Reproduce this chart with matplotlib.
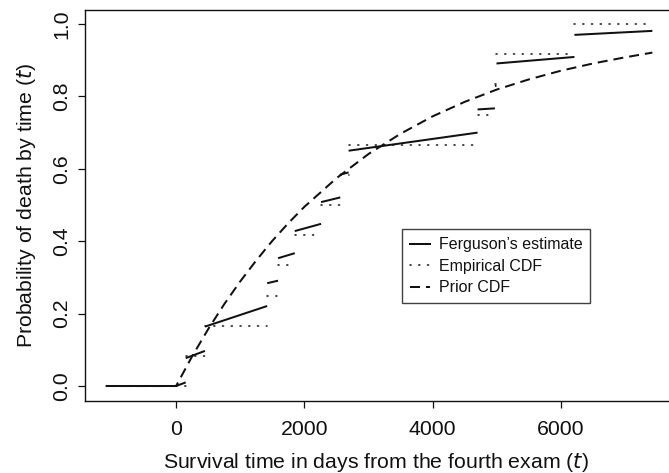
import matplotlib
matplotlib.use("Agg")
import matplotlib.pyplot as plt
from matplotlib.lines import Line2D

plt.rcParams['font.family'] = ['Liberation Sans', 'DejaVu Sans']
plt.rcParams['lines.scale_dashes'] = False

# Ferguson's (Dirichlet-process) estimate, drawn piece by piece between deaths
ferg_t0 = [-1090, 0, 150, 450, 1420, 1590, 1850, 2260, 2560, 2690, 4700, 4970, 4995, 6210]
ferg_t1 = [0, 150, 450, 1420, 1590, 1850, 2260, 2560, 2690, 4700, 4970, 4995, 6210, 7425]
ferg_y0 = [0.0, 0.0, 0.077, 0.164, 0.284, 0.353, 0.428, 0.508, 0.584, 0.650, 0.764, 0.829, 0.891, 0.970]
ferg_y1 = [0.0, 0.010, 0.097, 0.221, 0.291, 0.367, 0.448, 0.521, 0.590, 0.700, 0.767, 0.830, 0.909, 0.981]

# Empirical CDF: step levels between successive death times
emp_t0 = [-1090, 150, 450, 1420, 1590, 1850, 2260, 2560, 2690, 4700, 4970, 4995, 6210]
emp_t1 = [150, 450, 1420, 1590, 1850, 2260, 2560, 2690, 4700, 4970, 4995, 6210, 7425]
emp_y = [0.0, 0.083, 0.167, 0.250, 0.333, 0.417, 0.500, 0.583, 0.667, 0.750, 0.833, 0.917, 1.0]

# Prior CDF
prior_t = [-1090, 0, 250, 500, 750, 1000, 1250, 1500, 1750, 2000, 2500, 3000,
           3500, 4000, 4500, 5000, 5500, 6000, 6500, 7000, 7425]
prior_y = [0.0, 0.0, 0.082, 0.157, 0.226, 0.289, 0.347, 0.401, 0.450, 0.495, 0.574, 0.641,
           0.697, 0.745, 0.785, 0.819, 0.847, 0.871, 0.891, 0.908, 0.921]

x_ticks = [0, 2000, 4000, 6000]
y_ticks = [0.0, 0.2, 0.4, 0.6, 0.8, 1.0]
y_ticklabels = ["0.0", "0.2", "0.4", "0.6", "0.8", "1.0"]
legend_labels = ["Ferguson\u2019s estimate", "Empirical CDF", "Prior CDF"]

W, H = 669, 473
fig = plt.figure(figsize=(W / 100, H / 100), dpi=100)
ax = fig.add_axes([85 / W, (H - 401) / H, (674.5 - 85) / W, (401 - 10) / H])

ink = "#111111"
lw_solid = 1.45
dot_style = dict(lw=1.1, dashes=(0.8, 5.5), dash_capstyle='round')
dash_style = dict(lw=lw_solid, dashes=(7.2, 4.3), dash_capstyle='butt')

for a, b, c, d in zip(ferg_t0, ferg_t1, ferg_y0, ferg_y1):
    ax.plot([a, b], [c, d], color=ink, lw=lw_solid, solid_capstyle='butt')
for a, b, c in zip(emp_t0, emp_t1, emp_y):
    ax.plot([a, b], [c, c], color=ink, **dot_style)
ax.plot(prior_t, prior_y, color=ink, **dash_style)

ax.set_xlim(-1420, 7770)
ax.set_ylim(-0.0414, 1.0387)

fs = 15.3
ax.set_xticks(x_ticks)
ax.set_xticklabels([str(v) for v in x_ticks])
ax.set_yticks(y_ticks)
ax.set_yticklabels(y_ticklabels, rotation=90, va='center')
ax.tick_params(axis='both', direction='out', length=5, width=0.9, colors=ink,
               labelsize=fs)
ax.tick_params(axis='x', pad=8.5)
ax.tick_params(axis='y', pad=4.7)
for side in ['left', 'bottom', 'top']:
    ax.spines[side].set_linewidth(1.0)
    ax.spines[side].set_color(ink)
ax.spines['right'].set_visible(False)

# axis titles, anchored on their baselines
fig.text(376 / W, (H - 467.5) / H, "Survival time in days from the fourth exam ($\\mathit{t}$)",
         ha='center', va='baseline', fontsize=fs, color=ink)
fig.text(32 / W, (H - 205) / H, "Probability of death by time ($\\mathit{t}$)",
         ha='center', va='baseline', rotation=90, rotation_mode='anchor',
         fontsize=fs, color=ink)

# boxed key
handles = [
    Line2D([], [], color=ink, lw=lw_solid),
    Line2D([], [], color=ink, **dot_style),
    Line2D([], [], color=ink, **dash_style),
]
leg = ax.legend(handles, legend_labels, loc='upper left',
                bbox_to_anchor=(401.7 / W, (H - 229.3) / H), bbox_transform=fig.transFigure,
                fontsize=11.5, frameon=True, fancybox=False, handlelength=1.25,
                handletextpad=0.56, labelspacing=0.41, borderpad=0.5, borderaxespad=0)
leg.get_frame().set_edgecolor(ink)
leg.get_frame().set_linewidth(1.0)
for t in leg.get_texts():
    t.set_color(ink)

fig.savefig("out.png", dpi=100)
